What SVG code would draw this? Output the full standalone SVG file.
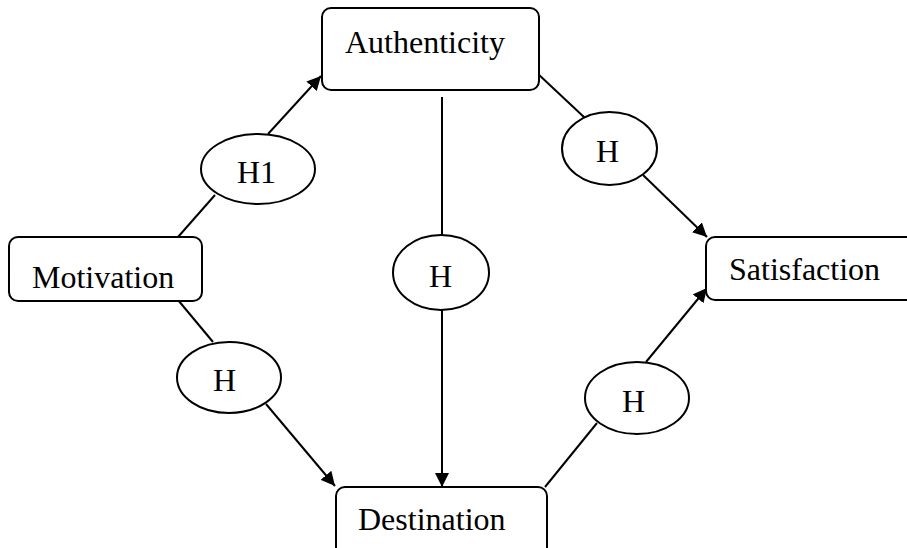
<svg xmlns="http://www.w3.org/2000/svg" width="907" height="548" viewBox="0 0 907 548">
  <style>
    .box { fill: #fff; stroke: #000; stroke-width: 2; }
    .hyp { fill: #fff; stroke: #000; stroke-width: 2; }
    .lbl { font-family: "Liberation Serif", "Times New Roman", serif; font-size: 32px; fill: #000; }
    .edge { fill: none; stroke: #000; stroke-width: 2; }
  </style>
  <defs>
    <marker id="arrow" markerWidth="14" markerHeight="14" refX="14" refY="7" orient="auto" markerUnits="userSpaceOnUse" viewBox="0 0 14 14">
      <path d="M0,0 L14,7 L0,14 Z" fill="#000"/>
    </marker>
  </defs>
  <rect width="907" height="548" fill="#fff"/>

  <!-- connectors -->
  <g id="connectors">
    <!-- Motivation -> H1 -> Authenticity -->
    <line class="edge" x1="178" y1="237" x2="215" y2="195"/>
    <line class="edge" x1="268" y1="134" x2="321" y2="76" marker-end="url(#arrow)"/>
    <!-- Motivation -> H -> Destination -->
    <line class="edge" x1="178" y1="300" x2="213" y2="342"/>
    <line class="edge" x1="266" y1="404" x2="335" y2="486" marker-end="url(#arrow)"/>
    <!-- Authenticity -> H -> Destination -->
    <line class="edge" x1="442" y1="97" x2="442" y2="235"/>
    <line class="edge" x1="442" y1="310" x2="442" y2="487" marker-end="url(#arrow)"/>
    <!-- Authenticity -> H -> Satisfaction -->
    <line class="edge" x1="537" y1="73" x2="585" y2="118"/>
    <line class="edge" x1="643" y1="175" x2="707" y2="237" marker-end="url(#arrow)"/>
    <!-- Destination -> H -> Satisfaction -->
    <line class="edge" x1="545" y1="487" x2="597" y2="423"/>
    <line class="edge" x1="646" y1="362" x2="707" y2="288" marker-end="url(#arrow)"/>
  </g>

  <!-- construct boxes -->
  <g id="authenticity">
    <rect class="box" x="322" y="8" width="217" height="82" rx="9"/>
    <text class="lbl" x="345" y="53">Authenticity</text>
  </g>
  <g id="motivation">
    <rect class="box" x="9" y="237" width="193" height="64" rx="9"/>
    <text class="lbl" x="32" y="288">Motivation</text>
  </g>
  <g id="destination">
    <rect class="box" x="336" y="487" width="211" height="75" rx="9"/>
    <text class="lbl" x="358" y="530">Destination</text>
  </g>
  <g id="satisfaction">
    <rect class="box" x="706" y="237" width="210" height="63" rx="9"/>
    <text class="lbl" x="729" y="280">Satisfaction</text>
  </g>

  <!-- hypothesis ovals -->
  <g id="h1">
    <ellipse class="hyp" cx="258" cy="169" rx="57" ry="35"/>
    <text class="lbl" x="237" y="183">H1</text>
  </g>
  <g id="h-motivation-destination">
    <ellipse class="hyp" cx="229" cy="377.5" rx="52" ry="35.5"/>
    <text class="lbl" x="213" y="391">H</text>
  </g>
  <g id="h-authenticity-destination">
    <ellipse class="hyp" cx="441" cy="272.5" rx="48" ry="37.5"/>
    <text class="lbl" x="429" y="287">H</text>
  </g>
  <g id="h-authenticity-satisfaction">
    <ellipse class="hyp" cx="609.5" cy="148.5" rx="47.5" ry="36.5"/>
    <text class="lbl" x="596" y="162">H</text>
  </g>
  <g id="h-destination-satisfaction">
    <ellipse class="hyp" cx="637" cy="398" rx="52" ry="36"/>
    <text class="lbl" x="622" y="412">H</text>
  </g>
</svg>
